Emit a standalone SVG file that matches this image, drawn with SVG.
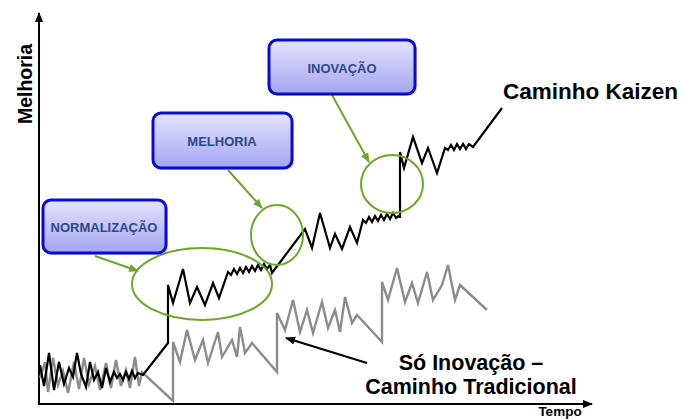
<svg xmlns="http://www.w3.org/2000/svg" width="681" height="419" viewBox="0 0 681 419">
  <defs>
    <linearGradient id="boxFill" x1="0" y1="0" x2="0" y2="1">
      <stop offset="0" stop-color="#e4e4ff"/>
      <stop offset="1" stop-color="#a4a4f2"/>
    </linearGradient>
    <marker id="axisHead" viewBox="0 0 10 10" refX="9" refY="5" markerWidth="5" markerHeight="5" orient="auto">
      <path d="M0,1 L10,5 L0,9 z" fill="#000"/>
    </marker>
    <marker id="greenHead" viewBox="0 0 10 10" refX="9" refY="5" markerWidth="5" markerHeight="5" orient="auto">
      <path d="M0,1 L10,5 L0,9 z" fill="#6ea52a"/>
    </marker>
    <marker id="blackHead" viewBox="0 0 10 10" refX="9" refY="5" markerWidth="5" markerHeight="5" orient="auto">
      <path d="M0,1 L10,5 L0,9 z" fill="#000"/>
    </marker>
  </defs>
  <style>
    .box { fill: url(#boxFill); stroke: #0a0ad0; stroke-width: 3; }
    .shadow { fill: #000; opacity: 0.12; }
    .boxText { font-family: "Liberation Sans", Arial, sans-serif; font-weight: bold; font-size: 13px; fill: #2b4a86; text-anchor: middle; }
    .label { font-family: "Liberation Sans", Arial, sans-serif; font-weight: bold; fill: #000; }
    .ring { fill: none; stroke: #6ea52a; stroke-width: 2; }
    .pointer { fill: none; stroke: #6ea52a; stroke-width: 2; marker-end: url(#greenHead); }
    .kaizen { fill: none; stroke: #000; stroke-width: 2.2; stroke-linejoin: miter; }
    .classic { fill: none; stroke: #8c8c8c; stroke-width: 2.4; stroke-linejoin: miter; }
  </style>

  <rect width="681" height="419" fill="#fff"/>

  <!-- axes -->
  <g id="axes">
    <line x1="39" y1="404" x2="39" y2="13" stroke="#000" stroke-width="2" marker-end="url(#axisHead)"/>
    <line x1="38" y1="404" x2="592" y2="404" stroke="#000" stroke-width="2" marker-end="url(#axisHead)"/>
    <text class="label" x="0" y="0" font-size="19.5" text-anchor="middle" transform="translate(32,84) rotate(-90)">Melhoria</text>
    <text class="label" x="560" y="416" font-size="13.5" text-anchor="middle">Tempo</text>
  </g>

  <!-- curves -->
  <g id="curves">
    <!-- traditional path: innovation steps only -->
    <polyline id="traditional" class="classic" points="40,378 45,362 48,392 53,358 58,385 63,371 68,393 74,362 79,389 84,358 89,384 95,366 100,390 106,363 111,388 116,360 121,386 126,370 130,388 135,357 139,386 142,372 173,401 173,342 180,362 187,330 195,360 203,340 208,363 218,332 222,357 232,340 237,357 240,327 245,353 252,343 277,372 277,313 285,330 293,300 300,332 307,310 313,333 322,302 328,328 335,310 340,332 345,297 352,323 357,315 382,342 382,282 388,300 397,268 405,302 412,283 418,303 427,272 433,300 442,285 448,265 455,300 460,285 487,310"/>
    <!-- kaizen path: innovation plus continuous improvement -->
    <polyline id="kaizen" class="kaizen" points="40,365 44,386 49,353 54,390 59,362 64,384 69,368 73,377 77,353 81,374 86,387 90,362 94,380 98,372 102,388 106,368 110,382 114,372 117,378 120,374 123,380 126,372 129,379 132,371 135,378 138,373 143,375 168,343 168,285 173,303 183,269 190,303 197,287 205,305 213,283 219,298 228,272 231,275 234,269 237,274 240,268 243,273 246,267 249,272 252,266 255,271 258,265 261,270 264,264 267,269 270,265 272,273 305,229 312,248 320,213 330,248 335,234 342,249 350,227 357,243 363,220 366,223 369,217 372,222 375,216 378,221 381,215 384,220 387,214 390,219 393,213 396,218 400,215 400,218 400,152 404,168 413,137 422,163 428,148 437,173 445,148 448,150 451,145 454,150 457,144 460,149 463,144 466,149 469,144 473,147 502,108"/>
  </g>

  <!-- highlighted zones and connectors -->
  <g id="connectors">
    <ellipse class="ring" cx="202" cy="284" rx="70" ry="36"/>
    <ellipse class="ring" cx="277" cy="235" rx="26" ry="30"/>
    <ellipse class="ring" cx="392" cy="184" rx="31" ry="29"/>
    <line class="pointer" x1="95" y1="256" x2="138" y2="271"/>
    <line class="pointer" x1="228" y1="170" x2="262" y2="208"/>
    <line class="pointer" x1="332" y1="95" x2="369" y2="162"/>
    <line x1="367" y1="363" x2="286" y2="338" stroke="#000" stroke-width="2" marker-end="url(#blackHead)"/>
  </g>

  <g id="box-normalizacao">
    <rect class="shadow" x="45" y="202" width="123" height="53" rx="8"/>
    <rect class="box" x="43" y="200" width="123" height="53" rx="8"/>
    <text class="boxText" x="104" y="232">NORMALIZAÇÃO</text>
  </g>
  <g id="box-melhoria">
    <rect class="shadow" x="155" y="115" width="139" height="55" rx="8"/>
    <rect class="box" x="153" y="113" width="139" height="55" rx="8"/>
    <text class="boxText" x="222" y="146">MELHORIA</text>
  </g>
  <g id="box-inovacao">
    <rect class="shadow" x="271" y="42" width="146" height="54" rx="8"/>
    <rect class="box" x="269" y="40" width="146" height="54" rx="8"/>
    <text class="boxText" x="342" y="73">INOVAÇÃO</text>
  </g>

  <g id="label-kaizen">
    <text class="label" x="503" y="99" font-size="22.5">Caminho Kaizen</text>
  </g>
  <g id="label-tradicional">
    <text class="label" x="471" y="370" font-size="21.5" text-anchor="middle">Só Inovação –</text>
    <text class="label" x="471" y="394" font-size="21.5" text-anchor="middle">Caminho Tradicional</text>
  </g>
</svg>
